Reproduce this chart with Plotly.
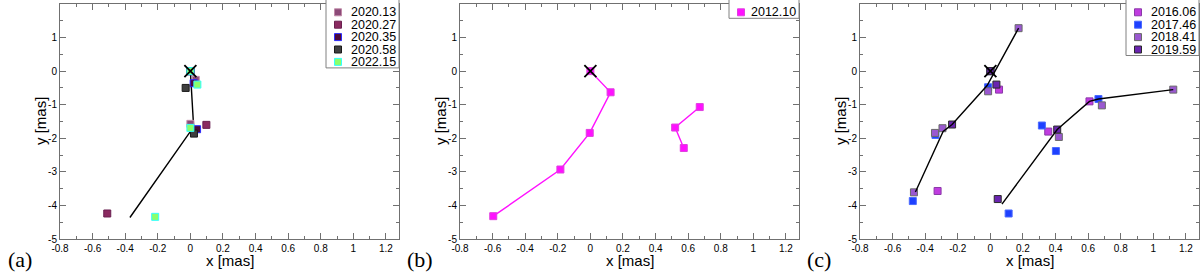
import plotly.graph_objects as go

W, H = 1200, 279

# ---------------- data ----------------
X_TICKS = [-0.8, -0.6, -0.4, -0.2, 0, 0.2, 0.4, 0.6, 0.8, 1.0, 1.2]
X_TICKTEXT = ["-0.8", "-0.6", "-0.4", "-0.2", "0", "0.2", "0.4", "0.6", "0.8", "1", "1.2"]
Y_TICKS = [-5, -4, -3, -2, -1, 0, 1, 2]
Y_TICKTEXT = ["-5", "-4", "-3", "-2", "-1", "0", "1", "2"]
X_TITLE = "x [mas]"
Y_TITLE = "y [mas]"

CORE_X = [0]
CORE_Y = [0]

# Panel (a)
A_EPOCHS = ["2020.13", "2020.27", "2020.35", "2020.58", "2022.15"]
A_X = [[0, 0.033, 0.0], [0, 0.098, -0.51], [0, 0.02, 0.041], [0, -0.029, 0.022], [0, 0.043, 0.0, -0.216]]
A_Y = [[0, -0.26, -1.57], [0, -1.60, -4.24], [0, -0.36, -1.73], [0, -0.50, -1.86], [0, -0.40, -1.69, -4.34]]
A_FILL = ["#8c4a78", "#8a2a60", "#4c0a38", "#3e3e3e", "#8cff6a"]
A_EDGE = ["#c08aa8", "#6a2050", "#2a2aff", "#1a1a1a", "#33ffff"]
A_TRACK_X = [0, 0.02, -0.371]
A_TRACK_Y = [0, -1.66, -4.36]

# Panel (b)
B_EPOCHS = ["2012.10"]
B_X = [0, 0.124, -0.004, -0.184, -0.596, None, 0.671, 0.52, 0.573]
B_Y = [0, -0.63, -1.84, -2.93, -4.32, None, -1.07, -1.68, -2.29]
B_FILL = ["#ff10ff"]
B_EDGE = ["#e040e0"]

# Panel (c)
C_EPOCHS = ["2016.06", "2017.46", "2018.41", "2019.59"]
C_X = [[0, 0.053, 0.355, 0.608, -0.324],
       [0, -0.014, -0.337, -0.476, 0.112, 0.316, 0.402, 0.663],
       [0, 0.173, -0.014, -0.294, -0.34, -0.469, 0.42, 0.684, 1.122],
       [0, 0.037, -0.235, 0.045, 0.41]]
C_Y = [[0, -0.55, -1.80, -0.90, -3.57],
       [0, -0.48, -1.90, -3.87, -4.24, -1.62, -2.38, -0.83],
       [0, 1.28, -0.60, -1.70, -1.84, -3.61, -1.96, -1.02, -0.55],
       [0, -0.40, -1.59, -3.81, -1.74]]
C_FILL = ["#c03ce0", "#1e40ff", "#9a58d0", "#6a24b0"]
C_EDGE = ["#8a3aa8", "#4a6aff", "#6a6a6a", "#2a2a2a"]
C_TRACK1_X = [0.173, -0.02, -0.235, -0.29, -0.46]
C_TRACK1_Y = [1.28, -0.43, -1.59, -1.80, -3.60]
C_TRACK2_X = [0.071, 0.41, 0.608, 0.663, 1.122]
C_TRACK2_Y = [-3.96, -1.74, -0.90, -0.83, -0.55]

PANEL_LABELS = ["(a)", "(b)", "(c)"]

# ---------------- layout geometry ----------------
SANS = "Liberation Sans"
SERIF = "Liberation Serif"
PANEL_LEFT = [60, 460, 860]
PANEL_W = 339
Y_TOP, Y_BOT = 4, 239
X_RANGE = [-0.8, 1.28]
Y_RANGE = [-5, 2]
AXC = "#707070"

fig = go.Figure()


def axref(i):
    return ("x" if i == 0 else f"x{i+1}"), ("y" if i == 0 else f"y{i+1}")


def add_squares(i, xs, ys, fills, edges, names):
    xa, ya = axref(i)
    for x, y, f, e, n in zip(xs, ys, fills, edges, names):
        fig.add_trace(go.Scatter(x=x, y=y, mode="markers", name=n, xaxis=xa, yaxis=ya,
                                 marker=dict(symbol="square", size=7, color=f,
                                             line=dict(color=e, width=1)),
                                 showlegend=False))


def add_line(i, xs, ys, color="black", width=1.4):
    xa, ya = axref(i)
    fig.add_trace(go.Scatter(x=xs, y=ys, mode="lines", xaxis=xa, yaxis=ya,
                             line=dict(color=color, width=width), showlegend=False))


def add_core(i):
    xa, ya = axref(i)
    fig.add_trace(go.Scatter(x=CORE_X, y=CORE_Y, mode="markers", xaxis=xa, yaxis=ya,
                             marker=dict(symbol="x-thin", size=12,
                                         line=dict(color="black", width=1.8)),
                             showlegend=False))


# panel a
add_line(0, A_TRACK_X, A_TRACK_Y)
add_squares(0, A_X, A_Y, A_FILL, A_EDGE, A_EPOCHS)
add_core(0)

# panel b
xa, ya = axref(1)
fig.add_trace(go.Scatter(x=B_X, y=B_Y, mode="lines+markers", name=B_EPOCHS[0], xaxis=xa, yaxis=ya,
                         line=dict(color=B_FILL[0], width=1.4),
                         marker=dict(symbol="square", size=7, color=B_FILL[0],
                                     line=dict(color=B_EDGE[0], width=1)),
                         showlegend=False))
add_core(1)

# panel c
add_squares(2, C_X, C_Y, C_FILL, C_EDGE, C_EPOCHS)
add_line(2, C_TRACK1_X, C_TRACK1_Y)
add_line(2, C_TRACK2_X, C_TRACK2_Y)
add_core(2)

layout = dict(width=W, height=H, margin=dict(l=0, r=0, t=0, b=0),
              paper_bgcolor="white", plot_bgcolor="white", showlegend=False,
              font=dict(family=SANS, color="black"))

for i in range(3):
    xk = "xaxis" if i == 0 else f"xaxis{i+1}"
    yk = "yaxis" if i == 0 else f"yaxis{i+1}"
    xa, ya = axref(i)
    layout[xk] = dict(domain=[PANEL_LEFT[i] / W, (PANEL_LEFT[i] + PANEL_W) / W], anchor=ya,
                      range=X_RANGE, tickmode="array", tickvals=X_TICKS, ticktext=X_TICKTEXT,
                      ticks="inside", ticklen=6, tickcolor=AXC, tickwidth=1,
                      showline=True, linecolor=AXC, linewidth=1, mirror="ticks",
                      showgrid=False, zeroline=False, automargin=False,
                      tickfont=dict(size=10, family=SANS),
                      minor=dict(dtick=0.1, tick0=0, ticks="inside", ticklen=3, tickcolor=AXC))
    layout[yk] = dict(domain=[1 - Y_BOT / H, 1 - Y_TOP / H], anchor=xa,
                      range=Y_RANGE, tickmode="array", tickvals=Y_TICKS, ticktext=Y_TICKTEXT,
                      ticks="inside", ticklen=6, tickcolor=AXC, tickwidth=1,
                      showline=True, linecolor=AXC, linewidth=1, mirror="ticks",
                      showgrid=False, zeroline=False, automargin=False,
                      tickfont=dict(size=10, family=SANS),
                      minor=dict(dtick=0.5, tick0=0, ticks="inside", ticklen=3, tickcolor=AXC))

fig.update_layout(**layout)

# ---------------- legends (drawn as boxes), axis titles, panel labels ----------------
shapes = []
annots = []
LEG_ROW = 12.4
LEG_FIRST = 12.3
LEG_BOX = [(326, 399, A_EPOCHS, A_FILL, A_EDGE),
           (729, 799, B_EPOCHS, B_FILL, B_EDGE),
           (1126, 1199, C_EPOCHS, C_FILL, C_EDGE)]
for left, right, names, fills, edges in LEG_BOX:
    n = len(names)
    bottom = LEG_FIRST + LEG_ROW * (n - 1) + 6
    shapes.append(dict(type="rect", xref="paper", yref="paper",
                       x0=left / W, x1=right / W, y0=1 - bottom / H, y1=1 + 2 / H,
                       line=dict(color="#808080", width=1), fillcolor="white", layer="above"))
    for k, (nm, f, e) in enumerate(zip(names, fills, edges)):
        cy = LEG_FIRST + LEG_ROW * k
        cx = left + 12
        shapes.append(dict(type="rect", xref="paper", yref="paper",
                           x0=(cx - 3.5) / W, x1=(cx + 3.5) / W,
                           y0=1 - (cy + 3.5) / H, y1=1 - (cy - 3.5) / H,
                           line=dict(color=e, width=1), fillcolor=f, layer="above"))
        annots.append(dict(x=(right - 2) / W, y=1 - cy / H, xref="paper", yref="paper",
                           text=nm, showarrow=False, xanchor="right", yanchor="middle",
                           borderpad=0,
                           font=dict(size=12.5, color="black", family=SANS)))

LABEL_X = [20, 420, 819]
for i, (lx, lab) in enumerate(zip(LABEL_X, PANEL_LABELS)):
    annots.append(dict(x=lx / W, y=1 - 259 / H, xref="paper", yref="paper", text=lab,
                       showarrow=False, xanchor="center", yanchor="middle",
                       font=dict(size=22, family=SERIF, color="black")))
    cx = PANEL_LEFT[i] + PANEL_W / 2
    annots.append(dict(x=cx / W, y=1 - 260 / H, xref="paper", yref="paper", text=X_TITLE,
                       showarrow=False, xanchor="center", yanchor="middle",
                       font=dict(size=15, family=SANS, color="black")))
    annots.append(dict(x=(PANEL_LEFT[i] - 20) / W, y=1 - 121 / H, xref="paper", yref="paper",
                       text=Y_TITLE, textangle=-90,
                       showarrow=False, xanchor="center", yanchor="middle",
                       font=dict(size=15, family=SANS, color="black")))

fig.update_layout(shapes=shapes, annotations=annots)
fig.write_html("out.html", config={"displayModeBar": False},
               post_script="document.body.style.margin='0';document.body.style.overflow='hidden';")
